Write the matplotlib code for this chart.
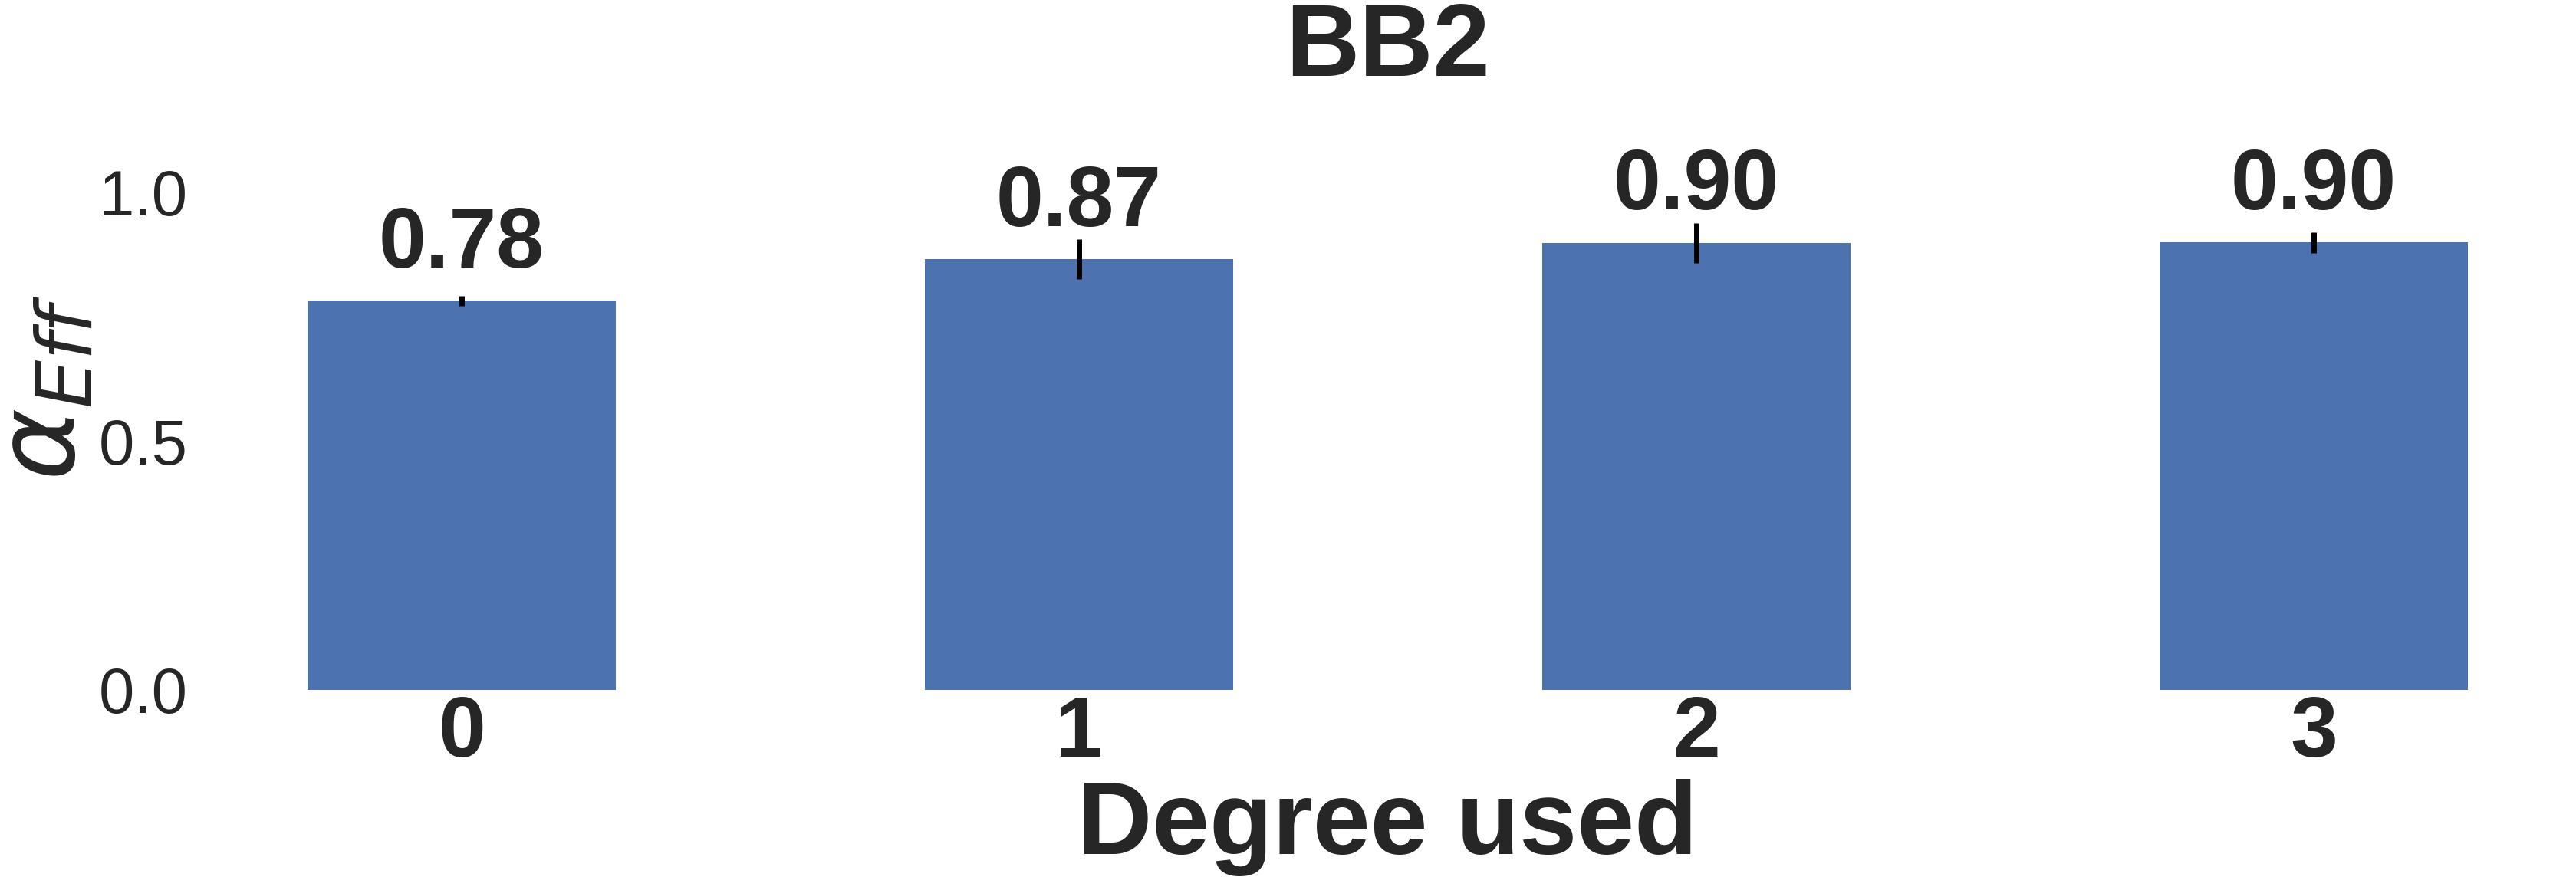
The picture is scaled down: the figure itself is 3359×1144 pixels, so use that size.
import matplotlib
matplotlib.use("Agg")
import matplotlib.pyplot as plt
import numpy as np

plt.rcParams['font.family'] = ['Liberation Sans', 'DejaVu Sans']
plt.rcParams['mathtext.fontset'] = 'dejavusans'

categories = ['0', '1', '2', '3']
values = [0.781, 0.864, 0.897, 0.898]
errors = [0.0105, 0.040, 0.040, 0.0205]
value_labels = ['0.78', '0.87', '0.90', '0.90']
yticks = [0.0, 0.5, 1.0]
ytick_labels = ['0.0', '0.5', '1.0']

TEXT = '#262626'
BAR = '#4C72B0'

fig = plt.figure(figsize=(33.59, 11.44), dpi=100)
ax = fig.add_axes([0.0774, 0.2133, 0.9226, 0.6897])

x = np.arange(len(categories))
ax.bar(x, values, width=0.5, color=BAR, zorder=2)
ax.errorbar(x, values, yerr=errors, fmt='none', ecolor='black', elinewidth=5, capsize=0, zorder=3)

for xi, v, lab in zip(x, values, value_labels):
    ax.text(xi, v + 0.067, lab, ha='center', va='baseline', fontsize=80,
            fontweight='bold', color=TEXT)

ax.set_xlim(-0.425, 3.425)
ax.set_ylim(0, 1.214)
ax.set_xticks(x)
ax.set_xticklabels(categories, fontsize=80, fontweight='bold', color=TEXT)
ax.set_yticks(yticks)
ax.set_yticklabels(ytick_labels, fontsize=60, color=TEXT)
ax.tick_params(axis='both', length=0)
ax.tick_params(axis='x', pad=4.5)
ax.tick_params(axis='y', pad=11)

for s in ax.spines.values():
    s.set_visible(False)
ax.grid(False)

ax.set_xlabel('Degree used', fontsize=97, fontweight='bold', color=TEXT, labelpad=4)
ax.set_ylabel(r'$\alpha_{Eff}$', fontsize=103, color=TEXT, labelpad=1)
ax.set_title('BB2', fontsize=96, fontweight='bold', color=TEXT, y=1.0, pad=8.6)

fig.savefig('out.png', dpi=100, facecolor='white')
